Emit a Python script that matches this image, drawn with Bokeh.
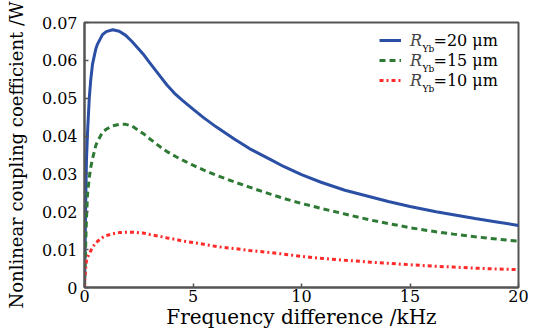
from bokeh.plotting import figure
from bokeh.models import Range1d, FixedTicker, Legend, LegendItem, Label
from bokeh.embed import file_html
from bokeh.resources import INLINE

# Frequency difference (kHz)
freq = [0, 0.03, 0.06, 0.09, 0.14, 0.22, 0.29, 0.37, 0.52, 0.6, 0.83, 1.0, 1.3, 1.6, 1.9,
        2.2, 2.7, 3.0, 3.5, 3.8, 4.2, 4.5, 5.0, 5.5, 6.1, 6.9, 7.6, 8.6, 9.2, 10.0, 10.9,
        12.0, 13.2, 14.0, 15.0, 16.2, 17.0, 18.0, 19.0, 20]
# Nonlinear coupling coefficient (W), R_Yb = 20 um
r20 = [0, 0.012, 0.024, 0.0335, 0.041, 0.050, 0.055, 0.059, 0.0630, 0.0643, 0.0668, 0.0676,
       0.0681, 0.0677, 0.0666, 0.0649, 0.0617, 0.0594, 0.0557, 0.0535, 0.0510, 0.0495,
       0.0471, 0.0448, 0.0423, 0.0392, 0.0367, 0.0337, 0.0319, 0.0298, 0.0278, 0.0257,
       0.0239, 0.0227, 0.0214, 0.0200, 0.0192, 0.0182, 0.0173, 0.0164]
# R_Yb = 15 um
r15 = [0, 0.006, 0.0124, 0.018, 0.0247, 0.029, 0.0318, 0.034, 0.0375, 0.0386, 0.041, 0.0418,
       0.0427, 0.0431, 0.0431, 0.0426, 0.0407, 0.0393, 0.0371, 0.0359, 0.0346, 0.0337,
       0.0323, 0.0310, 0.0296, 0.0279, 0.0265, 0.0246, 0.0235, 0.0222, 0.0209, 0.0194,
       0.0178, 0.0169, 0.0158, 0.0147, 0.0141, 0.0134, 0.0128, 0.0122]
# R_Yb = 10 um
r10 = [0, 0.0036, 0.0055, 0.0071, 0.0080, 0.0089, 0.0097, 0.0106, 0.0118, 0.0122, 0.0132,
       0.0137, 0.0142, 0.0145, 0.0146, 0.0146, 0.0144, 0.0140, 0.0135, 0.0131, 0.0127,
       0.0123, 0.0119, 0.0114, 0.0108, 0.0103, 0.0098, 0.0092, 0.0088, 0.0082, 0.0077,
       0.0072, 0.0067, 0.0064, 0.0060, 0.0056, 0.0054, 0.0051, 0.0049, 0.0047]

series_values = ["=20 \u03bcm", "=15 \u03bcm", "=10 \u03bcm"]
x_ticks = [0, 5, 10, 15, 20]
y_ticks = [0, 0.01, 0.02, 0.03, 0.04, 0.05, 0.06, 0.07]
y_tick_labels = ["0", "0.01", "0.02", "0.03", "0.04", "0.05", "0.06", "0.07"]

FONT = "DejaVu Serif"
FRAME = "#555555"

p = figure(width=544, height=334, output_backend="svg", toolbar_location=None,
           x_range=Range1d(0, 20), y_range=Range1d(0, 0.07),
           min_border_left=84, min_border_right=26, min_border_top=22, min_border_bottom=47)
p.frame_width = 434
p.frame_height = 265
p.xgrid.visible = False
p.ygrid.visible = False
p.outline_line_color = FRAME
p.outline_line_width = 2
p.outline_line_alpha = 1
p.background_fill_color = "white"
p.border_fill_color = "white"

for ax in (p.xaxis[0], p.yaxis[0]):
    ax.axis_line_color = FRAME
    ax.axis_line_width = 2
    ax.major_tick_line_color = FRAME
    ax.major_tick_line_width = 1.5
    ax.major_tick_in = 4
    ax.major_tick_out = 0
    ax.minor_tick_line_color = None
    ax.major_label_text_font = FONT
    ax.major_label_text_font_size = "16px"
    ax.major_label_text_color = "black"
    ax.axis_label_text_font = FONT
    ax.axis_label_text_font_style = "normal"
    ax.axis_label_text_color = "black"

p.xaxis.axis_label_text_font_size = "20px"
p.yaxis.axis_label_text_font_size = "18px"
p.xaxis.ticker = FixedTicker(ticks=x_ticks)
p.yaxis.ticker = FixedTicker(ticks=y_ticks)
p.yaxis.major_label_overrides = {t: s for t, s in zip(y_ticks, y_tick_labels)}
p.xaxis.axis_label = "Frequency difference /kHz"
p.yaxis.axis_label = "Nonlinear coupling coefficient /W"
p.xaxis.major_label_standoff = 2
p.yaxis.major_label_standoff = 7
p.xaxis.axis_label_standoff = 0
p.yaxis.axis_label_standoff = 12

l1 = p.line(freq, r20, line_color="#2a4fa5", line_width=3)
l2 = p.line(freq, r15, line_color="#2e7a34", line_width=3, line_dash="6 4")
l3 = p.line(freq, r10, line_color="#ff2a2a", line_width=3, line_dash="4 3 2 3")

legend = Legend(items=[LegendItem(label="R", renderers=[l1]),
                       LegendItem(label="R", renderers=[l2]),
                       LegendItem(label="R", renderers=[l3])],
                location=(295, 197), orientation="vertical",
                padding=0, spacing=0, margin=0,
                glyph_width=22, glyph_height=20, label_height=20, label_standoff=9,
                label_text_font=FONT, label_text_font_size="16px",
                label_text_font_style="italic",
                border_line_color=None, background_fill_alpha=0)
p.add_layout(legend)

for i, txt in enumerate(series_values):
    yc = 247 - 20 * i
    p.add_layout(Label(x=338, y=yc - 8, x_units="screen", y_units="screen", text="Yb",
                       text_font=FONT, text_font_size="9px", text_color="black",
                       text_baseline="middle"))
    p.add_layout(Label(x=349, y=yc, x_units="screen", y_units="screen", text=txt,
                       text_font=FONT, text_font_size="16px", text_color="black",
                       text_baseline="middle"))

open("out.html", "w").write(file_html(p, INLINE))
